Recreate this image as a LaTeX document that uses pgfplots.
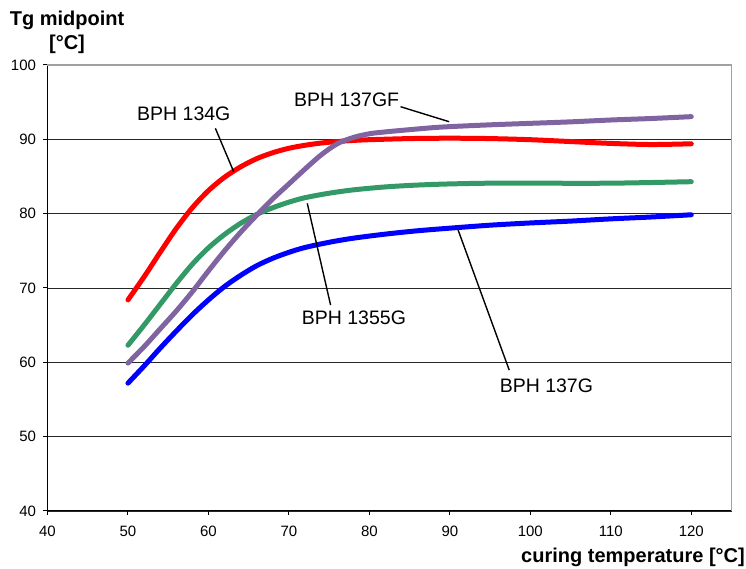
\documentclass[border=0pt]{standalone}
\usepackage{fontspec}
\setmainfont{Liberation Sans}
\usepackage{pgfplots}
\pgfplotsset{compat=1.18}
\definecolor{cred}{RGB}{255,0,0}
\definecolor{cblue}{RGB}{0,0,255}
\definecolor{cgreen}{RGB}{51,153,102}
\definecolor{cpurple}{RGB}{128,100,162}
\definecolor{frame}{RGB}{160,160,160}
\begin{document}
\begin{tikzpicture}
\begin{axis}[
  scale only axis,
  width=684pt, height=446pt,
  xmin=40, xmax=125, ymin=40, ymax=100,
  xtick={40,50,...,120}, ytick={40,50,...,100},
  axis x line*=bottom, axis y line*=left,
  axis line style={black, line width=1pt, -},
  tick align=outside, major tick length=4pt,
  tick style={black, line width=1pt},
  ymajorgrids, major grid style={black!85, line width=0.9pt},
  /pgf/number format/assume math mode=true,
  tick label style={font=\fontsize{15}{18}\selectfont},
  xticklabel style={yshift=-7pt},
  yticklabel style={xshift=-4pt},
  clip=false,
]
\addplot[cred, line width=5pt, line cap=round, smooth] coordinates {
(50,68.4) (52,71.5) (54,74.8) (56,78.0) (58,80.8) (60,83.1) (62,84.9) (64,86.3)
(66,87.4) (68,88.2) (70,88.8) (72,89.2) (74,89.5) (76,89.7) (78,89.85) (80,89.95)
(85,90.1) (90,90.15) (95,90.1) (100,89.95) (105,89.7) (110,89.45) (115,89.3) (120,89.4)};
\addplot[cgreen, line width=5pt, line cap=round, smooth] coordinates {
(50,62.3) (52,65.0) (54,67.8) (56,70.6) (58,73.2) (60,75.4) (62,77.2) (64,78.7)
(66,79.9) (68,80.8) (70,81.55) (72,82.15) (75,82.75) (78,83.2) (82,83.6) (86,83.85)
(90,84.0) (95,84.1) (100,84.1) (110,84.1) (120,84.3)};
\addplot[cblue, line width=5pt, line cap=round, smooth] coordinates {
(50,57.2) (52,59.5) (54,61.9) (56,64.2) (58,66.4) (60,68.4) (62,70.2) (64,71.7)
(66,73.0) (68,74.0) (70,74.8) (72,75.45) (75,76.15) (78,76.7) (82,77.25) (86,77.7)
(90,78.05) (95,78.45) (100,78.75) (105,79.0) (110,79.3) (115,79.55) (120,79.85)};
\addplot[cpurple, line width=5pt, line cap=round, smooth] coordinates {
(50,59.9) (52,62.1) (54,64.5) (56,66.9) (58,69.5) (60,72.3) (62,75.0) (64,77.5)
(66,79.8) (68,82.0) (70,84.0) (72,86.0) (74,87.9) (76,89.4) (78,90.25) (80,90.75)
(82,91.0) (85,91.3) (89,91.65) (95,91.95) (100,92.15) (105,92.35) (110,92.6)
(115,92.8) (120,93.05)};
% frame (top and right in gray)
\draw[frame, line width=1.2pt] (rel axis cs:0,1) -- (rel axis cs:1,1) -- (rel axis cs:1,0);
% leader lines
\draw[black, line width=1.4pt] (axis cs:60.86,91.48) -- (axis cs:63.14,85.64);
\draw[black, line width=1.4pt] (axis cs:83.87,94.39) -- (axis cs:89.91,92.37);
\draw[black, line width=1.4pt] (axis cs:72.28,81.39) -- (axis cs:75.18,67.70);
\draw[black, line width=1.4pt] (axis cs:91.03,77.79) -- (axis cs:97.38,58.95);
% series labels
\node[font=\fontsize{19.5}{22}\selectfont, inner sep=0pt] at (axis cs:56.94,93.4) {BPH 134G};
\node[font=\fontsize{19.5}{22}\selectfont, inner sep=0pt] at (axis cs:77.17,95.29) {BPH 137GF};
\node[font=\fontsize{19.5}{22}\selectfont, inner sep=0pt] at (axis cs:78.08,66.02) {BPH 1355G};
\node[font=\fontsize{19.5}{22}\selectfont, inner sep=0pt] at (axis cs:102.0,56.82) {BPH 137G};
% axis titles
\node[font=\bfseries\fontsize{20}{24}\selectfont, inner sep=0pt, anchor=base] at ([xshift=19.5pt, yshift=39pt]rel axis cs:0,1) {Tg midpoint};
\node[font=\bfseries\fontsize{20}{24}\selectfont, inner sep=0pt, anchor=base] at ([xshift=19.5pt, yshift=15pt]rel axis cs:0,1) {[°C]};
\node[font=\bfseries\fontsize{20}{24}\selectfont, inner sep=0pt, anchor=base east] at ([xshift=13.5pt, yshift=-52pt]rel axis cs:1,0) {curing temperature [°C]};
\end{axis}
\pgfresetboundingbox
\path (-47.5pt,-58pt) rectangle (698.5pt,511pt);
\end{tikzpicture}
\end{document}
